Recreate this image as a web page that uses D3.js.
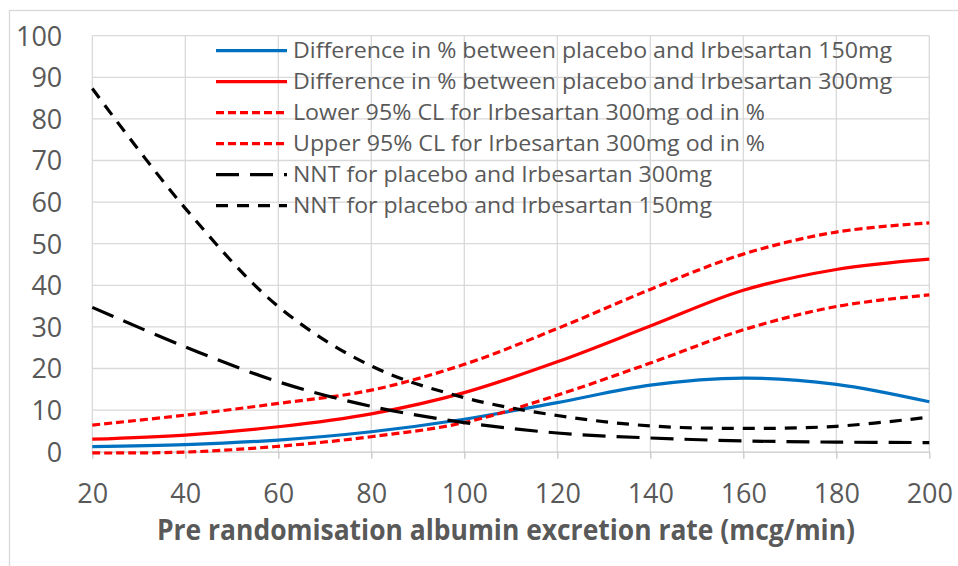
<!DOCTYPE html>
<html>
<head>
<meta charset="utf-8">
<script src="https://cdn.jsdelivr.net/npm/d3@7"></script>
<style>
  html, body { margin: 0; padding: 0; background: #fff; }
  svg { display: block; }
  text { font-family: "Open Sans", "Noto Sans", sans-serif; fill: #595959; }
</style>
</head>
<body>
<svg id="chart" width="958" height="566"></svg>
<script>
// ---- data ----
const xValues = [20, 40, 60, 80, 100, 120, 140, 160, 180, 200];
const diff150 = [1.2, 1.7, 2.8, 4.8, 7.8, 11.8, 16.0, 17.7, 16.2, 12.0];
const diff300 = [3.0, 4.0, 6.0, 9.1, 14.2, 21.6, 30.2, 38.8, 43.8, 46.3];
const lower300 = [-0.3, -0.1, 1.3, 3.6, 7.0, 13.6, 21.3, 29.3, 34.9, 37.7];
const upper300 = [6.4, 8.8, 11.6, 14.8, 21.0, 29.6, 39.0, 47.5, 52.8, 55.0];
const nnt300 = [34.7, 25.2, 16.8, 10.9, 7.0, 4.5, 3.3, 2.6, 2.3, 2.2];
const nnt150 = [87.3, 58.5, 34.9, 20.6, 13.0, 8.7, 6.2, 5.6, 6.1, 8.3];
const seriesNames = [
  "Difference in % between placebo and Irbesartan 150mg",
  "Difference in % between placebo and Irbesartan 300mg",
  "Lower 95% CL for Irbesartan 300mg od in %",
  "Upper 95% CL for Irbesartan 300mg od in %",
  "NNT for placebo and Irbesartan 300mg",
  "NNT for placebo and Irbesartan 150mg"
];
const xTicks = [20, 40, 60, 80, 100, 120, 140, 160, 180, 200];
const yTicks = [0, 10, 20, 30, 40, 50, 60, 70, 80, 90, 100];
const xTitle = "Pre randomisation albumin excretion rate (mcg/min)";

// ---- styling ----
const seriesValues = [diff150, diff300, lower300, upper300, nnt300, nnt150];
const styles = [
  { color: "#0070C0", dash: null },
  { color: "#FF0000", dash: null },
  { color: "#FF0000", dash: "8,4" },
  { color: "#FF0000", dash: "8,4" },
  { color: "#000000", dash: "23,11" },
  { color: "#000000", dash: "12,9" }
];
const legendTextLen = [599, 599, 472, 472, 419, 419];

const svg = d3.select("#chart");
const pLeft = 92.3, pRight = 929.3, pTop = 35.7, pBottom = 451.7;
const x = d3.scaleLinear().domain([20, 200]).range([pLeft, pRight]);
const y = d3.scaleLinear().domain([0, 100]).range([pBottom, pTop]);

// outer chart border
svg.append("rect").attr("x", 9.5).attr("y", 10.5).attr("width", 1000).attr("height", 600)
  .attr("fill", "none").attr("stroke", "#d9d9d9").attr("stroke-width", 1.3);

// gridlines
const grid = svg.append("g");
grid.selectAll("line.h").data(yTicks.filter(d => d > 0)).join("line")
  .attr("class", "h")
  .attr("x1", pLeft).attr("x2", pRight)
  .attr("y1", d => y(d)).attr("y2", d => y(d))
  .attr("stroke", "#d9d9d9").attr("stroke-width", 1.3);
grid.selectAll("line.v").data(xTicks).join("line")
  .attr("class", "v")
  .attr("y1", pTop).attr("y2", pBottom)
  .attr("x1", d => x(d)).attr("x2", d => x(d))
  .attr("stroke", "#d9d9d9").attr("stroke-width", 1.3);

// x axis
const xAxis = svg.append("g").attr("transform", `translate(0,${pBottom})`)
  .call(d3.axisBottom(x).tickValues(xTicks).tickSizeInner(7).tickSizeOuter(0).tickFormat(d3.format("d")));
xAxis.select(".domain").attr("stroke", "#c8c8c8").attr("stroke-width", 1.3);
xAxis.selectAll(".tick line").attr("stroke", "#c8c8c8").attr("stroke-width", 1.3);
xAxis.selectAll(".tick text").attr("y", 51.5).attr("dy", 0)
  .style("font-size", "27px").style("font-family", "'Open Sans', sans-serif").attr("fill", "#595959");

// y axis labels
const yAxis = svg.append("g").attr("transform", `translate(${pLeft},0)`)
  .call(d3.axisLeft(y).tickValues(yTicks).tickSize(0).tickPadding(30).tickFormat(d3.format("d")));
yAxis.select(".domain").remove();
yAxis.selectAll(".tick text").attr("dy", "0.35em")
  .style("font-size", "27px").style("font-family", "'Open Sans', sans-serif").attr("fill", "#595959");

// x title
svg.append("text").attr("x", 506).attr("y", 540).attr("text-anchor", "middle")
  .style("font-size", "28px").style("font-weight", "bold")
  .attr("textLength", 698).attr("lengthAdjust", "spacingAndGlyphs")
  .text(xTitle);

// series
const line = d3.line().x(d => x(d[0])).y(d => y(d[1])).curve(d3.curveCatmullRom.alpha(0.5));
seriesValues.forEach((vals, i) => {
  const pts = xValues.map((xv, j) => [xv, vals[j]]);
  const p = svg.append("path").datum(pts).attr("d", line)
    .attr("fill", "none").attr("stroke", styles[i].color).attr("stroke-width", 3.2);
  if (styles[i].dash) p.attr("stroke-dasharray", styles[i].dash);
});

// legend
const lg = svg.append("g");
seriesNames.forEach((name, i) => {
  const ly = 50.7 + i * 31;
  const l = lg.append("line").attr("x1", 216).attr("x2", 287).attr("y1", ly).attr("y2", ly)
    .attr("stroke", styles[i].color).attr("stroke-width", 3.2);
  if (styles[i].dash) l.attr("stroke-dasharray", styles[i].dash);
  lg.append("text").attr("x", 293).attr("y", ly + 7.5)
    .style("font-size", "22px")
    .attr("textLength", legendTextLen[i]).attr("lengthAdjust", "spacingAndGlyphs")
    .text(name);
});
</script>
</body>
</html>
